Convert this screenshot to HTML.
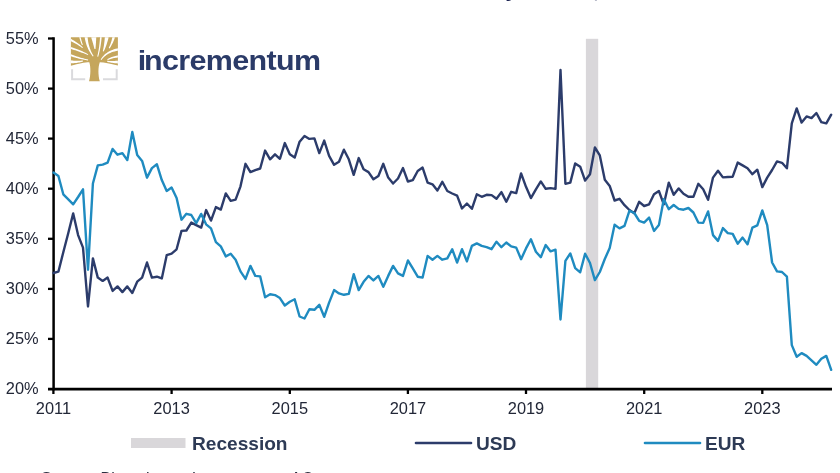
<!DOCTYPE html>
<html lang="en">
<head>
<meta charset="utf-8">
<title>USD and EUR share chart</title>
<style>
  html,body{margin:0;padding:0;background:#fff;}
  body{width:840px;height:473px;overflow:hidden;position:relative;font-family:"Liberation Sans",Arial,sans-serif;}
  svg{position:absolute;left:0;top:0;display:block;}
  .ax{font-family:"Liberation Sans",Arial,sans-serif;font-size:16.4px;fill:#222737;}
  .lg{font-family:"Liberation Sans",Arial,sans-serif;font-size:19.1px;font-weight:bold;fill:#2d3a55;}
  .brand{font-family:"Liberation Sans",Arial,sans-serif;font-size:28px;font-weight:bold;fill:#2b3b68;letter-spacing:-0.6px;}
  .ttl{font-family:"Liberation Sans",Arial,sans-serif;font-size:21px;font-weight:bold;fill:#1c2452;}
  .src{font-family:"Liberation Sans",Arial,sans-serif;font-size:16px;fill:#2a2f40;}
</style>
</head>
<body>
<svg width="840" height="473" viewBox="0 0 840 473">
  <rect x="0" y="0" width="840" height="473" fill="#ffffff"/>

  <!-- cropped title (only descenders visible) -->
  <text class="ttl" x="517.3" y="-2.6" text-anchor="end">SWIFT Transactions: Currency</text>
  <text class="ttl" x="523.3" y="-2.35" opacity="0.35">Shares, 01/2011–03/2024</text>

  <!-- recession band -->
  <rect x="585.9" y="38.8" width="12.3" height="349.5" fill="#d9d7da"/>

  <!-- logo -->
  <g id="logo">
    <defs><clipPath id="lc"><rect x="70.9" y="37.3" width="47" height="45"/></clipPath></defs>
    <path fill="#c5a65c" d="M70.9,37.3 H117.9 V65.6 C110,63.6 104.5,62.3 99.8,62.2 C98.0,67 98.0,75 99.8,81.3 H89.0 C90.8,75 90.8,67 89.3,62.2 C84.5,62.3 79,63.6 70.9,65.8 Z"/>
    <g clip-path="url(#lc)" fill="#ffffff">
    <path d="M69.46,40.43 L70.47,40.90 L71.46,41.38 L72.44,41.88 L73.41,42.38 L74.36,42.90 L75.30,43.43 L76.23,43.97 L77.14,44.53 L78.04,45.09 L78.93,45.67 L79.80,46.26 L80.66,46.87 L81.50,47.48 L82.34,48.11 L82.98,47.34 L82.18,46.64 L81.36,45.95 L80.54,45.28 L79.69,44.61 L78.83,43.95 L77.96,43.31 L77.06,42.68 L76.16,42.06 L75.24,41.45 L74.30,40.85 L73.35,40.26 L72.38,39.69 L71.39,39.12 L70.39,38.57 Z"/>
    <path d="M69.64,48.73 L71.09,49.12 L72.53,49.53 L73.94,49.94 L75.32,50.37 L76.68,50.80 L78.02,51.24 L79.33,51.69 L80.62,52.15 L81.88,52.63 L83.12,53.10 L84.33,53.59 L85.52,54.09 L86.69,54.60 L87.83,55.12 L88.28,54.22 L87.16,53.63 L86.01,53.05 L84.83,52.47 L83.63,51.90 L82.41,51.34 L81.16,50.80 L79.88,50.26 L78.58,49.72 L77.25,49.20 L75.89,48.69 L74.51,48.19 L73.11,47.69 L71.68,47.21 L70.22,46.73 Z"/>
    <path d="M69.59,55.84 L70.99,56.31 L72.37,56.76 L73.73,57.18 L75.09,57.59 L76.43,57.97 L77.76,58.33 L79.08,58.68 L80.39,59.00 L81.68,59.30 L82.97,59.58 L84.23,59.84 L85.49,60.08 L86.74,60.30 L87.97,60.50 L88.15,59.51 L86.94,59.25 L85.73,58.97 L84.50,58.67 L83.26,58.34 L82.01,58.00 L80.75,57.64 L79.48,57.26 L78.20,56.85 L76.90,56.43 L75.60,55.99 L74.28,55.52 L72.95,55.04 L71.61,54.54 L70.26,54.01 Z"/>
    <path d="M69.77,63.29 L70.73,63.30 L71.69,63.29 L72.65,63.26 L73.60,63.20 L74.55,63.12 L75.50,63.02 L76.45,62.90 L77.40,62.76 L78.34,62.59 L79.28,62.41 L80.22,62.20 L81.15,61.97 L82.09,61.73 L83.02,61.46 L82.81,60.48 L81.87,60.60 L80.93,60.69 L80.00,60.76 L79.08,60.81 L78.16,60.84 L77.24,60.85 L76.33,60.84 L75.42,60.81 L74.52,60.76 L73.62,60.68 L72.73,60.59 L71.84,60.48 L70.96,60.34 L70.08,60.19 Z"/>
    <path d="M79.26,37.07 L79.39,37.63 L79.53,38.19 L79.68,38.76 L79.84,39.32 L80.01,39.89 L80.19,40.47 L80.37,41.04 L80.57,41.62 L80.77,42.20 L80.99,42.79 L81.21,43.37 L81.44,43.96 L81.68,44.55 L81.94,45.15 L82.86,44.78 L82.65,44.18 L82.44,43.59 L82.24,43.00 L82.05,42.42 L81.87,41.84 L81.70,41.26 L81.53,40.69 L81.38,40.12 L81.24,39.56 L81.10,38.99 L80.98,38.44 L80.86,37.88 L80.76,37.33 L80.66,36.79 Z"/>
    <path d="M84.64,37.09 L84.91,38.67 L85.22,40.23 L85.59,41.76 L86.00,43.25 L86.47,44.72 L86.98,46.15 L87.54,47.56 L88.15,48.93 L88.80,50.27 L89.51,51.58 L90.26,52.86 L91.06,54.10 L91.90,55.32 L92.79,56.50 L93.61,55.92 L92.86,54.69 L92.16,53.44 L91.51,52.17 L90.91,50.88 L90.36,49.56 L89.86,48.23 L89.41,46.87 L89.01,45.49 L88.66,44.09 L88.35,42.67 L88.10,41.23 L87.89,39.77 L87.73,38.28 L87.61,36.77 Z"/>
    <path d="M91.14,37.27 L91.39,38.07 L91.65,38.88 L91.90,39.69 L92.15,40.51 L92.39,41.34 L92.64,42.17 L92.88,43.01 L93.12,43.85 L93.36,44.70 L93.59,45.56 L93.82,46.42 L94.05,47.29 L94.28,48.17 L94.50,49.05 L95.50,48.97 L95.57,48.06 L95.64,47.15 L95.71,46.25 L95.78,45.35 L95.84,44.46 L95.90,43.57 L95.96,42.68 L96.02,41.80 L96.07,40.92 L96.12,40.04 L96.17,39.17 L96.21,38.31 L96.25,37.44 L96.29,36.58 Z"/>
    <path d="M100.01,36.87 L99.92,38.42 L99.82,39.93 L99.70,41.43 L99.56,42.90 L99.41,44.35 L99.23,45.78 L99.04,47.19 L98.84,48.57 L98.61,49.93 L98.37,51.27 L98.11,52.59 L97.83,53.88 L97.53,55.15 L97.22,56.40 L98.18,56.67 L98.55,55.42 L98.90,54.14 L99.23,52.84 L99.54,51.51 L99.83,50.17 L100.11,48.80 L100.37,47.40 L100.61,45.98 L100.84,44.54 L101.04,43.08 L101.23,41.59 L101.40,40.08 L101.56,38.54 L101.69,36.98 Z"/>
    <path d="M104.83,36.64 L104.77,37.73 L104.69,38.81 L104.60,39.89 L104.50,40.95 L104.38,42.01 L104.25,43.07 L104.11,44.11 L103.96,45.15 L103.79,46.18 L103.61,47.20 L103.42,48.22 L103.21,49.23 L102.99,50.23 L102.76,51.23 L103.70,51.56 L104.13,50.62 L104.56,49.66 L104.97,48.69 L105.37,47.71 L105.75,46.72 L106.13,45.71 L106.49,44.69 L106.84,43.66 L107.18,42.62 L107.51,41.56 L107.82,40.49 L108.12,39.41 L108.41,38.32 L108.69,37.22 Z"/>
    <path d="M112.44,36.63 L112.30,37.44 L112.14,38.25 L111.96,39.06 L111.76,39.87 L111.55,40.68 L111.31,41.49 L111.06,42.30 L110.78,43.10 L110.49,43.91 L110.17,44.71 L109.84,45.52 L109.48,46.32 L109.11,47.12 L108.71,47.92 L109.57,48.43 L110.08,47.67 L110.56,46.90 L111.03,46.13 L111.48,45.35 L111.91,44.56 L112.33,43.77 L112.72,42.97 L113.10,42.17 L113.46,41.36 L113.80,40.54 L114.12,39.72 L114.42,38.90 L114.71,38.06 L114.97,37.22 Z"/>
    <path d="M119.26,48.05 L117.41,48.40 L115.65,48.83 L113.96,49.32 L112.34,49.89 L110.81,50.54 L109.36,51.25 L107.99,52.04 L106.70,52.90 L105.49,53.82 L104.36,54.82 L103.32,55.89 L102.36,57.02 L101.48,58.22 L100.68,59.48 L101.53,60.02 L102.37,58.87 L103.28,57.80 L104.26,56.81 L105.30,55.88 L106.42,55.03 L107.60,54.25 L108.85,53.54 L110.17,52.90 L111.56,52.33 L113.02,51.83 L114.56,51.39 L116.16,51.03 L117.84,50.73 L119.60,50.49 Z"/>
    <path d="M119.36,55.30 L118.33,55.43 L117.33,55.57 L116.36,55.75 L115.41,55.95 L114.48,56.17 L113.58,56.42 L112.70,56.69 L111.85,57.00 L111.02,57.32 L110.22,57.67 L109.45,58.05 L108.70,58.45 L107.97,58.87 L107.28,59.32 L107.79,60.18 L108.50,59.83 L109.22,59.50 L109.96,59.20 L110.72,58.92 L111.51,58.67 L112.31,58.44 L113.14,58.24 L113.98,58.06 L114.85,57.91 L115.73,57.78 L116.64,57.68 L117.57,57.60 L118.52,57.54 L119.50,57.51 Z"/>
    <path d="M119.35,60.51 L118.46,60.61 L117.58,60.71 L116.70,60.79 L115.82,60.86 L114.95,60.91 L114.08,60.95 L113.22,60.97 L112.36,60.98 L111.51,60.98 L110.66,60.96 L109.82,60.92 L108.98,60.88 L108.14,60.81 L107.31,60.74 L107.12,61.72 L107.95,61.94 L108.78,62.15 L109.63,62.34 L110.48,62.52 L111.34,62.68 L112.22,62.83 L113.10,62.96 L113.99,63.08 L114.88,63.19 L115.79,63.28 L116.71,63.35 L117.63,63.41 L118.56,63.46 L119.50,63.49 Z"/>
    </g>
    <path fill="none" stroke="#dadadd" stroke-width="2.0" d="M72.1,69.2 V79.3 H85.2"/>
    <path fill="none" stroke="#dadadd" stroke-width="2.0" d="M116.7,69.2 V79.3 H103.0"/>
  </g>
  <text class="brand" transform="translate(136.2,69.6) scale(1.088,1)" x="0" y="0" dx="1.5 -1.4">incrementum</text>

  <!-- axes -->
  <g stroke="#000" stroke-width="2.3" fill="none" stroke-linecap="butt">
    <line x1="53.6" y1="37.2" x2="53.6" y2="390.3" stroke-width="2.5"/>
    <line x1="48" y1="389.1" x2="832" y2="389.1" stroke-width="2.6"/>
    <!-- y ticks -->
    <line x1="48" y1="38.5" x2="53.4" y2="38.5"/>
    <line x1="48" y1="88.6" x2="53.4" y2="88.6"/>
    <line x1="48" y1="138.6" x2="53.4" y2="138.6"/>
    <line x1="48" y1="188.7" x2="53.4" y2="188.7"/>
    <line x1="48" y1="238.8" x2="53.4" y2="238.8"/>
    <line x1="48" y1="288.9" x2="53.4" y2="288.9"/>
    <line x1="48" y1="338.9" x2="53.4" y2="338.9"/>
    <!-- x ticks -->
    <line x1="53.4" y1="389" x2="53.4" y2="394"/>
    <line x1="171.6" y1="389" x2="171.6" y2="394"/>
    <line x1="289.8" y1="389" x2="289.8" y2="394"/>
    <line x1="407.9" y1="389" x2="407.9" y2="394"/>
    <line x1="526.0" y1="389" x2="526.0" y2="394"/>
    <line x1="644.2" y1="389" x2="644.2" y2="394"/>
    <line x1="762.3" y1="389" x2="762.3" y2="394"/>
  </g>

  <!-- data lines -->
  <polyline fill="none" stroke="#2c3c6b" stroke-width="2.4" stroke-linejoin="round" stroke-linecap="round" points="53.5,273.0 58.4,271.7 63.3,252.2 68.3,233.0 73.2,213.4 78.1,235.1 83.0,247.6 88.0,306.5 92.9,258.4 97.8,277.6 102.7,280.9 107.6,277.6 112.6,290.9 117.5,286.4 122.4,292.1 127.3,286.4 132.3,292.9 137.2,281.7 142.1,277.6 147.0,262.5 151.9,277.6 156.9,276.7 161.8,278.4 166.7,255.2 171.6,253.6 176.6,249.3 181.5,230.9 186.4,230.5 191.3,222.6 196.2,225.1 201.2,227.6 206.1,210.1 211.0,220.6 215.9,207.1 220.8,209.6 225.8,193.4 230.7,200.9 235.6,199.7 240.5,186.3 245.5,163.8 250.4,172.1 255.3,170.1 260.2,168.5 265.1,150.6 270.1,159.3 275.0,154.3 279.9,158.8 284.8,143.1 289.8,154.3 294.7,157.6 299.6,141.7 304.5,135.9 309.4,138.9 314.4,138.4 319.3,153.1 324.2,140.6 329.1,155.9 334.1,164.8 339.0,161.8 343.9,149.7 348.8,159.3 353.7,174.8 358.7,158.1 363.6,169.3 368.5,172.1 373.4,179.3 378.4,176.0 383.3,163.8 388.2,177.6 393.1,183.5 398.0,178.5 403.0,168.1 407.9,181.5 412.8,180.1 417.7,171.0 422.6,167.6 427.6,182.6 432.5,184.3 437.4,190.5 442.3,181.8 447.3,191.0 452.2,193.5 457.1,195.6 462.0,208.5 466.9,203.5 471.9,208.8 476.8,194.3 481.7,196.8 486.6,194.8 491.6,195.1 496.5,198.8 501.4,192.1 506.3,201.8 511.2,191.8 516.2,193.1 521.1,173.4 526.0,186.8 530.9,198.1 535.9,189.3 540.8,181.4 545.7,188.8 550.6,188.1 555.5,188.9 560.5,70.0 565.4,183.8 570.3,182.6 575.2,163.4 580.2,166.7 585.1,180.6 590.0,174.2 594.9,147.5 599.8,155.4 604.8,179.8 609.7,185.9 614.6,200.5 619.5,198.8 624.5,205.2 629.4,210.0 634.3,213.2 639.2,201.8 644.1,206.0 649.1,204.3 654.0,194.3 658.9,191.0 663.8,204.3 668.8,182.6 673.7,194.8 678.6,188.4 683.5,193.8 688.4,196.8 693.4,196.8 698.3,183.8 703.2,189.3 708.1,199.8 713.0,177.6 718.0,170.8 722.9,177.4 727.8,177.0 732.7,176.7 737.7,162.6 742.6,165.4 747.5,168.3 752.4,174.2 757.3,169.7 762.3,187.1 767.2,177.6 772.1,170.0 777.0,161.4 782.0,162.8 786.9,168.3 791.8,123.4 796.7,108.4 801.6,122.6 806.6,116.4 811.5,118.1 816.4,113.0 821.3,122.1 826.3,123.4 831.2,114.7"/>
  <polyline fill="none" stroke="#1f8bc0" stroke-width="2.4" stroke-linejoin="round" stroke-linecap="round" points="53.5,172.6 58.4,176.0 63.3,194.3 68.3,199.3 73.2,204.3 78.1,197.0 83.0,189.3 88.0,269.8 92.9,183.5 97.8,165.4 102.7,164.6 107.6,162.6 112.6,148.9 117.5,154.7 122.4,153.1 127.3,160.1 132.3,132.0 137.2,155.1 142.1,160.9 147.0,177.6 151.9,168.1 156.9,164.3 161.8,180.1 166.7,191.0 171.6,187.6 176.6,198.0 181.5,219.7 186.4,213.8 191.3,215.0 196.2,223.1 201.2,213.9 206.1,224.3 211.0,228.4 215.9,242.1 220.8,246.4 225.8,256.4 230.7,253.8 235.6,259.8 240.5,271.4 245.5,278.9 250.4,265.9 255.3,275.9 260.2,276.4 265.1,297.3 270.1,294.3 275.0,295.1 279.9,298.1 284.8,305.5 289.8,301.8 294.7,299.3 299.6,316.5 304.5,318.5 309.4,309.3 314.4,309.8 319.3,304.8 324.2,316.8 329.1,302.6 334.1,290.1 339.0,293.4 343.9,294.8 348.8,293.9 353.7,274.2 358.7,290.1 363.6,281.8 368.5,275.9 373.4,280.4 378.4,275.9 383.3,286.8 388.2,275.9 393.1,265.9 398.0,273.4 403.0,275.9 407.9,260.5 412.8,268.4 417.7,276.7 422.6,277.6 427.6,255.9 432.5,259.7 437.4,255.9 442.3,259.7 447.3,258.4 452.2,249.2 457.1,262.5 462.0,249.2 466.9,261.4 471.9,245.9 476.8,243.4 481.7,245.9 486.6,247.1 491.6,249.2 496.5,241.7 501.4,247.2 506.3,242.5 511.2,246.4 516.2,247.6 521.1,259.2 526.0,248.4 530.9,239.2 535.9,251.7 540.8,257.2 545.7,245.0 550.6,251.4 555.5,249.7 560.5,319.5 565.4,260.9 570.3,253.4 575.2,268.1 580.2,272.3 585.1,253.7 590.0,263.0 594.9,280.1 599.8,272.0 604.8,259.0 609.7,248.1 614.6,224.7 619.5,228.4 624.5,225.9 629.4,210.9 634.3,213.0 639.2,220.9 644.1,222.6 649.1,217.6 654.0,230.9 658.9,225.1 663.8,199.2 668.8,209.2 673.7,205.0 678.6,208.9 683.5,209.7 688.4,208.0 693.4,212.5 698.3,222.6 703.2,222.9 708.1,211.4 713.0,235.1 718.0,240.9 722.9,228.1 727.8,233.1 732.7,233.9 737.7,243.8 742.6,237.6 747.5,244.3 752.4,227.6 757.3,225.4 762.3,210.5 767.2,225.1 772.1,262.5 777.0,271.4 782.0,272.0 786.9,276.7 791.8,345.1 796.7,356.8 801.6,353.1 806.6,355.9 811.5,360.4 816.4,364.8 821.3,358.8 826.3,355.9 831.2,369.8"/>

  <!-- y labels -->
  <g class="ax" text-anchor="end">
    <text x="38.6" y="44">55%</text>
    <text x="38.6" y="94">50%</text>
    <text x="38.6" y="144">45%</text>
    <text x="38.6" y="194">40%</text>
    <text x="38.6" y="244">35%</text>
    <text x="38.6" y="294">30%</text>
    <text x="38.6" y="344">25%</text>
    <text x="38.6" y="394">20%</text>
  </g>
  <!-- x labels -->
  <g class="ax" text-anchor="middle">
    <text x="53.4" y="413.8">2011</text>
    <text x="171.6" y="413.8">2013</text>
    <text x="289.8" y="413.8">2015</text>
    <text x="407.9" y="413.8">2017</text>
    <text x="526.0" y="413.8">2019</text>
    <text x="644.2" y="413.8">2021</text>
    <text x="762.3" y="413.8">2023</text>
  </g>

  <!-- legend -->
  <rect x="131" y="438" width="54.5" height="10" fill="#d9d7da"/>
  <text class="lg" x="192" y="450.4">Recession</text>
  <line x1="416" y1="443" x2="471" y2="443" stroke="#2c3c6b" stroke-width="2.6" stroke-linecap="round"/>
  <text class="lg" x="476" y="450.4">USD</text>
  <line x1="645" y1="443" x2="700" y2="443" stroke="#1f8bc0" stroke-width="2.6" stroke-linecap="round"/>
  <text class="lg" x="705" y="450.4">EUR</text>

  <!-- source (cropped at bottom) -->
  <text class="src" x="41" y="484.4">Source: Bloomberg, <tspan dx="5">Incrementum</tspan> <tspan dx="2">AG</tspan></text>
</svg>
</body>
</html>
